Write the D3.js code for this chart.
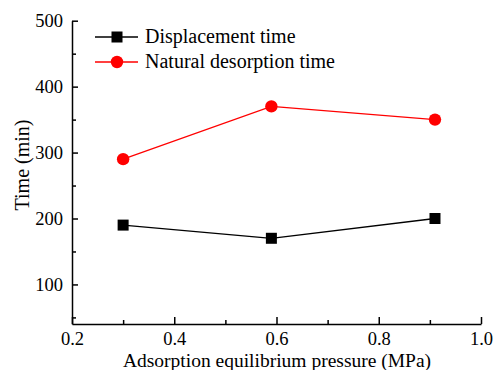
<!DOCTYPE html>
<html><head><meta charset="utf-8">
<script src="https://cdn.jsdelivr.net/npm/d3@7"></script>
<style>body{margin:0;background:#fff}svg{display:block}</style>
</head><body>
<script>
const pressure = [0.30, 0.59, 0.91];
const displacementTime = [190, 170, 200];
const naturalTime = [290, 370, 350];
const seriesNames = ["Displacement time", "Natural desorption time"];
const xTicks = [0.2, 0.4, 0.6, 0.8, 1.0];
const yTicks = [100, 200, 300, 400, 500];

const W = 495, H = 370;
const FONT = '"Liberation Serif", "Times New Roman", serif';
const svg = d3.select("body").append("svg").attr("width", W).attr("height", H).style("font-family", FONT);
const x = d3.scaleLinear().domain([0.2, 1.0]).range([72, 481]);
const y = d3.scaleLinear().domain([40, 500]).range([324, 20.7]);

const fs = 20, tfs = 18.5;
const xMinor = [0.3, 0.5, 0.7, 0.9];
const yMinor = [50, 150, 250, 350, 450];

const gx = svg.append("g").attr("transform", "translate(0,324)");
gx.call(d3.axisBottom(x).tickValues(xTicks).tickFormat(d3.format(".1f")).tickSizeInner(-7).tickSizeOuter(0).tickPadding(7.5));
gx.append("g").call(d3.axisBottom(x).tickValues(xMinor).tickFormat("").tickSizeInner(-4).tickSizeOuter(0)).select(".domain").remove();
gx.selectAll("g").attr("font-family", null);
gx.attr("font-family", null);
gx.selectAll("text").attr("font-size", tfs).attr("fill", "#000").style("font-family", FONT);
gx.selectAll("line,path").attr("stroke", "#000").attr("stroke-width", 1.5);

const gy = svg.append("g").attr("transform", "translate(72,0)");
gy.call(d3.axisLeft(y).tickValues(yTicks).tickFormat(d3.format("d")).tickSizeInner(-6).tickSizeOuter(0).tickPadding(9));
gy.append("g").call(d3.axisLeft(y).tickValues(yMinor).tickFormat("").tickSizeInner(-4).tickSizeOuter(0)).select(".domain").remove();
gy.selectAll("g").attr("font-family", null);
gy.attr("font-family", null);
gy.selectAll("text").attr("font-size", tfs).attr("fill", "#000").style("font-family", FONT);
gy.selectAll("line,path").attr("stroke", "#000").attr("stroke-width", 1.5);

svg.append("text").attr("x", 277).attr("y", 366.5).attr("text-anchor", "middle").attr("font-size", 19.5).style("font-family", FONT).text("Adsorption equilibrium pressure (MPa)");
svg.append("text").attr("transform", "translate(28.5,165) rotate(-90)").attr("text-anchor", "middle").attr("font-size", fs).style("font-family", FONT).text("Time (min)");

const line = d3.line().x(d => x(d[0])).y(d => y(d[1]));
const dData = pressure.map((p, i) => [p, displacementTime[i]]);
const nData = pressure.map((p, i) => [p, naturalTime[i]]);

svg.append("path").attr("d", line(dData)).attr("fill", "none").attr("stroke", "#000").attr("stroke-width", 1.3);
svg.append("path").attr("d", line(nData)).attr("fill", "none").attr("stroke", "#ff0000").attr("stroke-width", 1.3);

const sq = 11;
svg.selectAll("rect.d").data(dData).enter().append("rect")
  .attr("x", d => x(d[0]) - sq / 2).attr("y", d => y(d[1]) - sq / 2).attr("width", sq).attr("height", sq).attr("fill", "#000");
svg.selectAll("circle.n").data(nData).enter().append("circle")
  .attr("cx", d => x(d[0])).attr("cy", d => y(d[1])).attr("r", 6.2).attr("fill", "#ff0000");

const colors = ["#000", "#ff0000"];
seriesNames.forEach((name, i) => {
  const ly = 37 + i * 25;
  svg.append("line").attr("x1", 95).attr("x2", 138).attr("y1", ly).attr("y2", ly).attr("stroke", colors[i]).attr("stroke-width", 1.3);
  if (i === 0) svg.append("rect").attr("x", 117 - sq / 2).attr("y", ly - sq / 2).attr("width", sq).attr("height", sq).attr("fill", "#000");
  else svg.append("circle").attr("cx", 117).attr("cy", ly).attr("r", 6.2).attr("fill", "#ff0000");
  svg.append("text").attr("x", 145).attr("y", ly + 6).attr("font-size", fs).style("font-family", FONT).text(name);
});
</script>
</body></html>
